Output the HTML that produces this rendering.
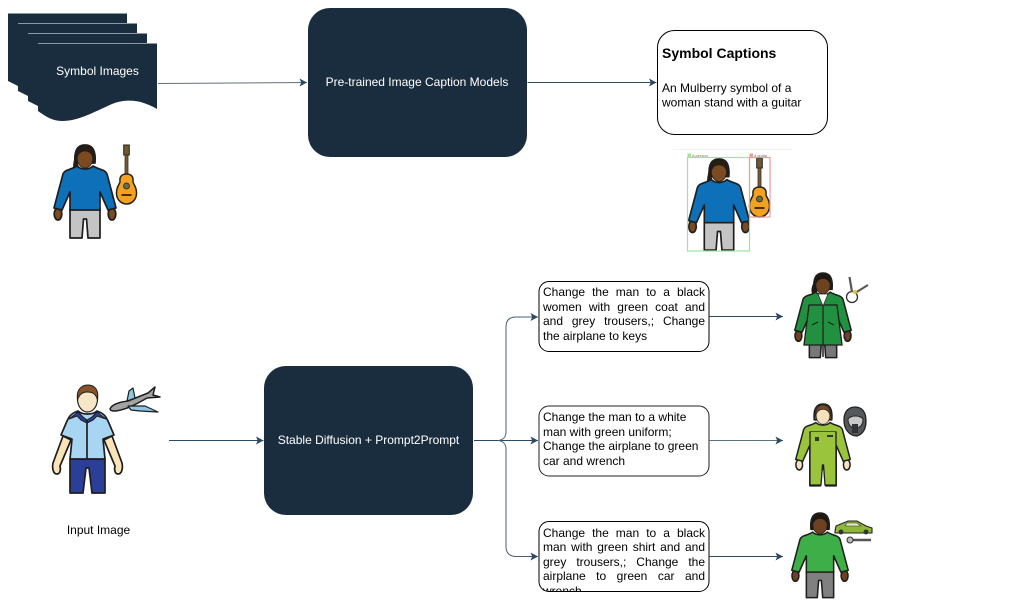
<!DOCTYPE html>
<html><head><meta charset="utf-8">
<style>
html,body{margin:0;padding:0;background:#fff;}
#c{position:relative;width:1031px;height:611px;overflow:hidden;background:#fff;font-family:"Liberation Sans",sans-serif;}
svg{position:absolute;left:0;top:0;}
.tb{position:absolute;left:543px;width:162px;font-size:12px;line-height:14.6px;color:#000;overflow:hidden;}
.j div{text-align:justify;text-align-last:justify;}
.n div{white-space:nowrap;}
.person .shirt{fill:var(--shirt);}
.person .tr{fill:var(--tr);}
.person .sk{fill:var(--sk);}
.person .hr{fill:var(--hr);}
.person path,.person ellipse{stroke:#1e1e1e;stroke-width:1.7;stroke-linejoin:round;}
</style></head>
<body><div id="c">
<svg width="1031" height="611" viewBox="0 0 1031 611" xmlns="http://www.w3.org/2000/svg">
<defs>
<marker id="a" markerUnits="userSpaceOnUse" markerWidth="9" markerHeight="9" refX="8" refY="4.5" orient="auto">
<path d="M0.5,0.5 L8,4.5 L0.5,8.5 L2.2,4.5Z" fill="#2d4a63"/></marker>
<g id="p" class="person">
<path class="tr" d="M-15,64 L15,64 L15,93 L3,93 L1.500,74 L-1.500,74 L-3,93 L-15,93Z"/>
<ellipse class="sk" cx="-27" cy="69" rx="3.800" ry="6"/>
<ellipse class="sk" cx="27" cy="69" rx="3.800" ry="6"/>
<path class="shirt" d="M-8,21 C-14,25 -20,24 -22,29 L-31,63 L-23,65 L-15,47 L-15,65 L15,65 L15,47 L23,65 L31,63 L22,29 C20,24 14,25 8,21 C4,25 -4,25 -8,21Z"/>
<path class="hr" d="M-10,18 C-11,6 -8,0 0,0 C8,0 11,6 10,18Z"/>
<ellipse class="sk" cx="0" cy="13" rx="7.800" ry="10" style="stroke-width:.8"/>
<path class="hr" d="M-8.500,14 C-9,6 -5,1 0,1 C5,1 9,6 8.500,14 C7,8 4,6 0,6 C-4,6 -7,8 -8.500,14Z" style="stroke-width:.8"/>
</g>
<g id="g">
<rect x="-2.800" y="0" width="5.600" height="10" fill="#6e5a2e" stroke="#222"/>
<rect x="-1.500" y="10" width="3" height="21" fill="#7a5b2c" stroke="#333" stroke-width=".8"/>
<path d="M0,29 C5,29 7,32 6.500,36 C6,39 10.500,41 10,49 C9.500,56 4,59 0,59 C-4,59 -9.500,56 -10,49 C-10.500,41 -6,39 -6.500,36 C-7,32 -5,29 0,29Z" fill="#f2a21e" stroke="#222" stroke-width="1.500"/>
<circle cx="0" cy="41" r="3" fill="#6a6a50" stroke="#222" stroke-width=".8"/>
<rect x="-5" y="49" width="10" height="2" fill="#4a3010"/>
</g>
</defs>

<!-- stack -->
<g fill="#192d3e">
<path d="M8,13 H127 V70 H18 V86 L8,81Z"/>
<path d="M18,23 H137 V80 H28 V96 L18,91Z"/>
<path d="M28,33 H147 V90 H38 V106 L28,101Z"/>
<path d="M38,43 H157 V109 C145,102 130,97 112,104 C92,113 78,121 62,121 C52,121 45,116 38,111Z"/>
</g>
<path d="M8,13.500 H127 M18,23.500 H137 M28,33.500 H147 M38,43.500 H157" stroke="#8b98a5" stroke-width="1" fill="none"/>
<text x="97.500" y="75" font-size="12" fill="#fff" text-anchor="middle" font-family="Liberation Sans">Symbol Images</text>

<!-- main boxes -->
<rect x="308" y="8" width="219" height="149" rx="22" fill="#192d3e"/>
<text x="417" y="86" font-size="12" fill="#fff" text-anchor="middle" font-family="Liberation Sans">Pre-trained Image Caption Models</text>
<rect x="264" y="366" width="209" height="149" rx="22" fill="#192d3e"/>
<text x="368.500" y="444" font-size="12" fill="#fff" text-anchor="middle" font-family="Liberation Sans">Stable Diffusion + Prompt2Prompt</text>

<!-- captions -->
<rect x="657.500" y="30.500" width="170" height="104" rx="17" fill="#fff" stroke="#000" stroke-width="1"/>
<text x="662" y="58" font-size="14" font-weight="bold" font-family="Liberation Sans">Symbol Captions</text>
<text x="662" y="92" font-size="12" font-family="Liberation Sans">An Mulberry symbol of a</text>
<text x="662" y="106.500" font-size="12" font-family="Liberation Sans">woman stand with a guitar</text>

<!-- text boxes -->
<rect x="539" y="281.500" width="170" height="70" rx="10" fill="#fff" stroke="#000"/>
<rect x="539" y="406" width="170" height="70" rx="10" fill="#fff" stroke="#222"/>
<rect x="539" y="521.500" width="170" height="70" rx="10" fill="#fff" stroke="#000"/>

<!-- connectors -->
<g fill="none" stroke="#2d4a63" stroke-width="1">
<path d="M158,83.500 L307,82.500" marker-end="url(#a)" stroke="#5d7080"/>
<path d="M527.500,82.500 H656.500" marker-end="url(#a)"/>
<path d="M169,440.500 H263.500" marker-end="url(#a)"/>
<path d="M474,440.500 H538" marker-end="url(#a)"/>
<path d="M498,440.500 C503,440 506,437 506,432 V327 C506,320 510,317 516,317 H538" marker-end="url(#a)" stroke="#4a6072"/>
<path d="M498,440.500 C503,441 506,444 506,449 V547 C506,553 510,556.500 516,556.500 H538" marker-end="url(#a)" stroke="#4a6072"/>
<path d="M709,316.500 H783" marker-end="url(#a)"/>
<path d="M709,440.500 L783,440.500" marker-end="url(#a)" stroke="#5d7080"/>
<path d="M709,556.500 H783" marker-end="url(#a)"/>
</g>

<!-- symbol person 1 -->
<path d="M75,158 C73,165 73,169 75,171 L79,168Z" fill="#2a1c10" stroke="#1e1e1e"/>
<use href="#p" transform="translate(85,145)" style="--shirt:#0d70b8;--tr:#c4c4c4;--sk:#7b4a20;--hr:#2a1c10"/>
<use href="#g" transform="translate(126.500,145)"/>

<!-- detection -->
<path d="M673,149.500 H793" stroke="#f2f2f2" stroke-width="1"/>
<path d="M709,172 C707,179 707,183 709,185 L713,182Z" fill="#2a1c10" stroke="#1e1e1e"/>
<use href="#p" transform="translate(719,159) scale(.98)" style="--shirt:#0d70b8;--tr:#c4c4c4;--sk:#7b4a20;--hr:#2a1c10"/>
<use href="#g" transform="translate(759.500,158)"/>
<rect x="687.500" y="157.500" width="62" height="93.500" fill="none" stroke="#9be79b" stroke-width="1.200"/>
<rect x="749.500" y="157.500" width="20.500" height="59.500" fill="none" stroke="#f09a9a" stroke-width="1.200"/>
<rect x="687.500" y="153.500" width="3.500" height="4" fill="#9be79b"/>
<rect x="749.500" y="153.500" width="3.500" height="4" fill="#f09a9a"/>
<text x="692" y="157" font-size="4" fill="#777" font-family="Liberation Sans">A person</text>
<text x="754" y="157" font-size="4" fill="#777" font-family="Liberation Sans">a guitar</text>

<!-- input person -->
<g stroke="#1e1e1e" stroke-width="1.700" stroke-linejoin="round">
<path d="M70,459 H105 V493 H92 L89,468 H86 L83,493 H70Z" fill="#2c3f98"/>
<path d="M63,436 L53,463 C52,468 53,474 57,474 C60,474 61,470 60,466 L71,440Z" fill="#fbe3b8"/>
<path d="M112,436 L122,463 C123,468 122,474 118,474 C115,474 114,470 115,466 L104,440Z" fill="#fbe3b8"/>
<path d="M78,411 C70,414 69,417 67,421 L61,435 L72,439 L70,459 H105 L103,439 L114,435 L108,421 C106,417 105,414 97,411 C93,415 82,415 78,411Z" fill="#a8d6f2"/>
<path d="M69,419 L78,412 L83,417 L87,420 L92,417 L97,412 L106,419 L97,416 L93,420 L87,423 L81,420 L77,416Z" fill="#2c3f98" stroke-width="1"/>
<path d="M87,420 V459" fill="none"/>
<ellipse cx="87.500" cy="399" rx="10" ry="13" fill="#f6e6c8" stroke-width="1.200"/>
<path d="M77.500,400 C76,390 81,385 88,385 C95,385 99,390 97.500,400 C96,394 93,392 87,392 C82,392 79,395 77.500,400Z" fill="#8a5228" stroke-width="1"/>
<path d="M110,409 C112,404 120,402 128,401 L148,393 L155,387 L153,395 L160,397 L147,398 C135,405 125,410 115,411 C111,411 110,410 110,409Z" fill="#a3a3a3" stroke-width="1.500"/>
<path d="M127,401 L129,391 L133,388 L135,398Z" fill="#8fc6e2" stroke-width="1.200"/>
<path d="M128,406 L145,406 L158,412 L140,411 L131,410Z" fill="#8fc6e2" stroke-width="1.200"/>
</g>

<!-- output 1 -->
<path d="M813,285 C811,291 812,293 814,295 L817,291Z" fill="#1f1710" stroke="#1e1e1e"/>
<use href="#p" transform="translate(823,273) scale(.91)" style="--shirt:#22913f;--tr:#787878;--sk:#6e4220;--hr:#1f1710"/>
<path d="M809,305 L804,345 H842 L837,305Z" fill="#22913f" stroke="#1e1e1e" stroke-width="1.300"/>
<path d="M823,300 V345" stroke="#1e1e1e" stroke-width="1.200"/>
<path d="M818,294 L823,306 L828,294Z" fill="#fff" stroke="#1e1e1e" stroke-width=".7"/>
<path d="M823,345 V357" stroke="#1e1e1e" stroke-width="1.500"/>
<path d="M812,325 L818,322 M828,322 L834,325" stroke="#1e1e1e" fill="none"/>
<circle cx="852" cy="297" r="5.500" fill="none" stroke="#333" stroke-width="1.300"/>
<path d="M849.500,277 L852,292" stroke="#555" stroke-width="2.200"/>
<path d="M855,293 L868,285" stroke="#555" stroke-width="2"/>
<circle cx="855" cy="292" r="2" fill="#d9c83a"/>

<!-- output 2 -->
<use href="#p" transform="translate(823,404) scale(.88)" style="--shirt:#9ac43b;--tr:#9ac43b;--sk:#f5e0bd;--hr:#76492a"/>
<path d="M810,432 H836 V485 H825 L823.500,465 H822.500 L821,485 H810Z" fill="#9ac43b" stroke="#1e1e1e" stroke-width="1.300"/>
<path d="M811,432 H835 V440 H811Z" fill="#9ac43b" stroke="none"/>
<rect x="815" y="437" width="4" height="4" fill="#333"/><rect x="827" y="435" width="6" height="2" fill="#333"/>
<path d="M844,420 C844,411 849,407 855,407 C862,407 866,412 866,421 C866,429 863,434 857,436 C850,436 844,430 844,420Z" fill="#55585a" stroke="#222" stroke-width="1.300"/>
<path d="M848,419 C851,415 860,415 863,419 C863,425 860,428 855,428 C851,428 848,425 848,419Z" fill="#c8c8c8" stroke="#222" stroke-width="1"/>
<rect x="852" y="424" width="6" height="9" fill="#333"/>

<!-- output 3 -->
<use href="#p" transform="translate(820,513) scale(.91)" style="--shirt:#3eae48;--tr:#808080;--sk:#6e4220;--hr:#1f1710"/>
<path d="M835,531 L836,526 L848,521 H857 L866,526 L872,528 V533 H835Z" fill="#8fb83a" stroke="#222" stroke-width="1.100"/>
<circle cx="841" cy="532" r="2.500" fill="#333"/><circle cx="866" cy="532" r="2.500" fill="#333"/>
<path d="M847,523 H857 L861,526 H845Z" fill="#dfe9c8" stroke="#333" stroke-width=".6"/>
<path d="M851,540 H871" stroke="#555" stroke-width="2.500"/>
<circle cx="850" cy="540" r="3" fill="#bbb" stroke="#333" stroke-width="1"/>
</svg>

<div class="tb j" style="top:285px;height:64px;">
<div>Change the man to a black</div><div>women with green coat and</div><div>and grey trousers,; Change</div><div style="text-align-last:left">the airplane to keys</div>
</div>
<div class="tb n" style="top:410px;height:64px;">
<div>Change the man to a white</div><div>man with green uniform;</div><div>Change the airplane to green</div><div>car and wrench</div>
</div>
<div class="tb j" style="top:525.500px;height:65.500px;">
<div>Change the man to a black</div><div>man with green shirt and and</div><div>grey trousers,; Change the</div><div>airplane to green car and</div><div style="text-align-last:left">wrench</div>
</div>
<div style="position:absolute;left:0;width:197px;top:523px;text-align:center;font-size:12px;line-height:14px;">Input Image</div>
</div></body></html>
